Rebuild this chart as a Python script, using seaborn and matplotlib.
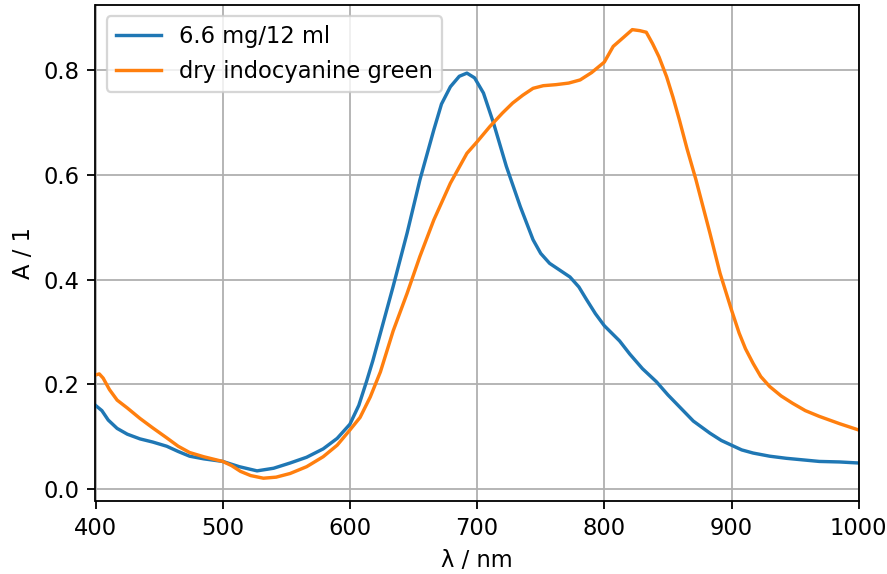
import matplotlib
matplotlib.use("Agg")
import matplotlib.pyplot as plt
import seaborn as sns
import pandas as pd

# Series 1: 6.6 mg/12 ml
wl_blue = [400, 405, 410, 417, 425, 435, 445, 456, 465, 474, 485, 500, 513, 527, 540,
           553, 566, 579, 590, 600, 607, 613, 618, 624, 634, 645, 655, 666, 672, 679,
           686, 692, 698, 705, 713, 723, 734, 744, 750, 757, 765, 773, 780, 786, 793,
           800, 812, 820, 830, 841, 850, 860, 870, 883, 892, 900, 908, 917, 930, 943,
           956, 969, 985, 1000]
a_blue = [0.160, 0.150, 0.132, 0.116, 0.105, 0.096, 0.090, 0.082, 0.072, 0.063, 0.058,
          0.053, 0.043, 0.035, 0.040, 0.050, 0.061, 0.077, 0.097, 0.124, 0.160, 0.205,
          0.245, 0.298, 0.387, 0.489, 0.590, 0.686, 0.735, 0.768, 0.788, 0.794, 0.785,
          0.756, 0.698, 0.616, 0.539, 0.476, 0.450, 0.431, 0.418, 0.405, 0.386, 0.362,
          0.335, 0.312, 0.283, 0.258, 0.230, 0.205, 0.180, 0.155, 0.130, 0.107, 0.093,
          0.084, 0.075, 0.069, 0.063, 0.059, 0.056, 0.053, 0.052, 0.050]

# Series 2: dry indocyanine green
wl_orange = [400, 403, 406, 411, 417, 425, 435, 445, 456, 465, 474, 485, 500, 507, 514,
             522, 532, 542, 553, 566, 579, 590, 600, 608, 616, 624, 634, 645, 655, 666,
             679, 692, 700, 710, 720, 728, 736, 744, 752, 762, 772, 781, 790, 800, 807,
             815, 822, 828, 833, 838, 843, 849, 854, 859, 865, 872, 883, 891, 900, 906,
             911, 917, 923, 930, 939, 948, 958, 969, 985, 1000]
a_orange = [0.218, 0.220, 0.212, 0.190, 0.170, 0.155, 0.135, 0.117, 0.098, 0.082, 0.070,
            0.062, 0.053, 0.045, 0.034, 0.026, 0.021, 0.023, 0.030, 0.043, 0.062, 0.084,
            0.113, 0.137, 0.176, 0.224, 0.302, 0.374, 0.444, 0.514, 0.584, 0.641, 0.663,
            0.692, 0.718, 0.737, 0.752, 0.765, 0.770, 0.772, 0.775, 0.781, 0.795, 0.815,
            0.845, 0.862, 0.877, 0.875, 0.872, 0.850, 0.825, 0.787, 0.748, 0.705, 0.650,
            0.591, 0.489, 0.412, 0.342, 0.298, 0.268, 0.240, 0.215, 0.196, 0.178, 0.164,
            0.150, 0.139, 0.125, 0.113]

labels = ["6.6 mg/12 ml", "dry indocyanine green"]
colors = ["#1f77b4", "#ff7f0e"]
x_ticks = [400, 500, 600, 700, 800, 900, 1000]
y_ticks = [0.0, 0.2, 0.4, 0.6, 0.8]

plt.rcParams.update(matplotlib.rcParamsDefault)
plt.rcParams["font.family"] = ["DejaVu Sans"]

DPI = 163
fig = plt.figure(figsize=(888 / DPI, 574 / DPI), dpi=DPI)
ax = fig.add_axes([95.5 / 888, 1 - 501 / 574, (858.7 - 95.5) / 888, (501 - 5) / 574])

df_b = pd.DataFrame({"wl": wl_blue, "A": a_blue})
df_o = pd.DataFrame({"wl": wl_orange, "A": a_orange})
sns.lineplot(data=df_b, x="wl", y="A", ax=ax, color=colors[0], label=labels[0], linewidth=1.5)
sns.lineplot(data=df_o, x="wl", y="A", ax=ax, color=colors[1], label=labels[1], linewidth=1.5)

ax.set_xlim(400, 1000)
ax.set_ylim(-0.0225, 0.924)
ax.set_xticks(x_ticks)
ax.set_yticks(y_ticks)
ax.grid(True, color="#b0b0b0", linewidth=0.8)
ax.set_xlabel("λ / nm")
ax.set_ylabel("A / 1")
ax.legend(loc="upper left")

fig.savefig("out.png", dpi=DPI)
